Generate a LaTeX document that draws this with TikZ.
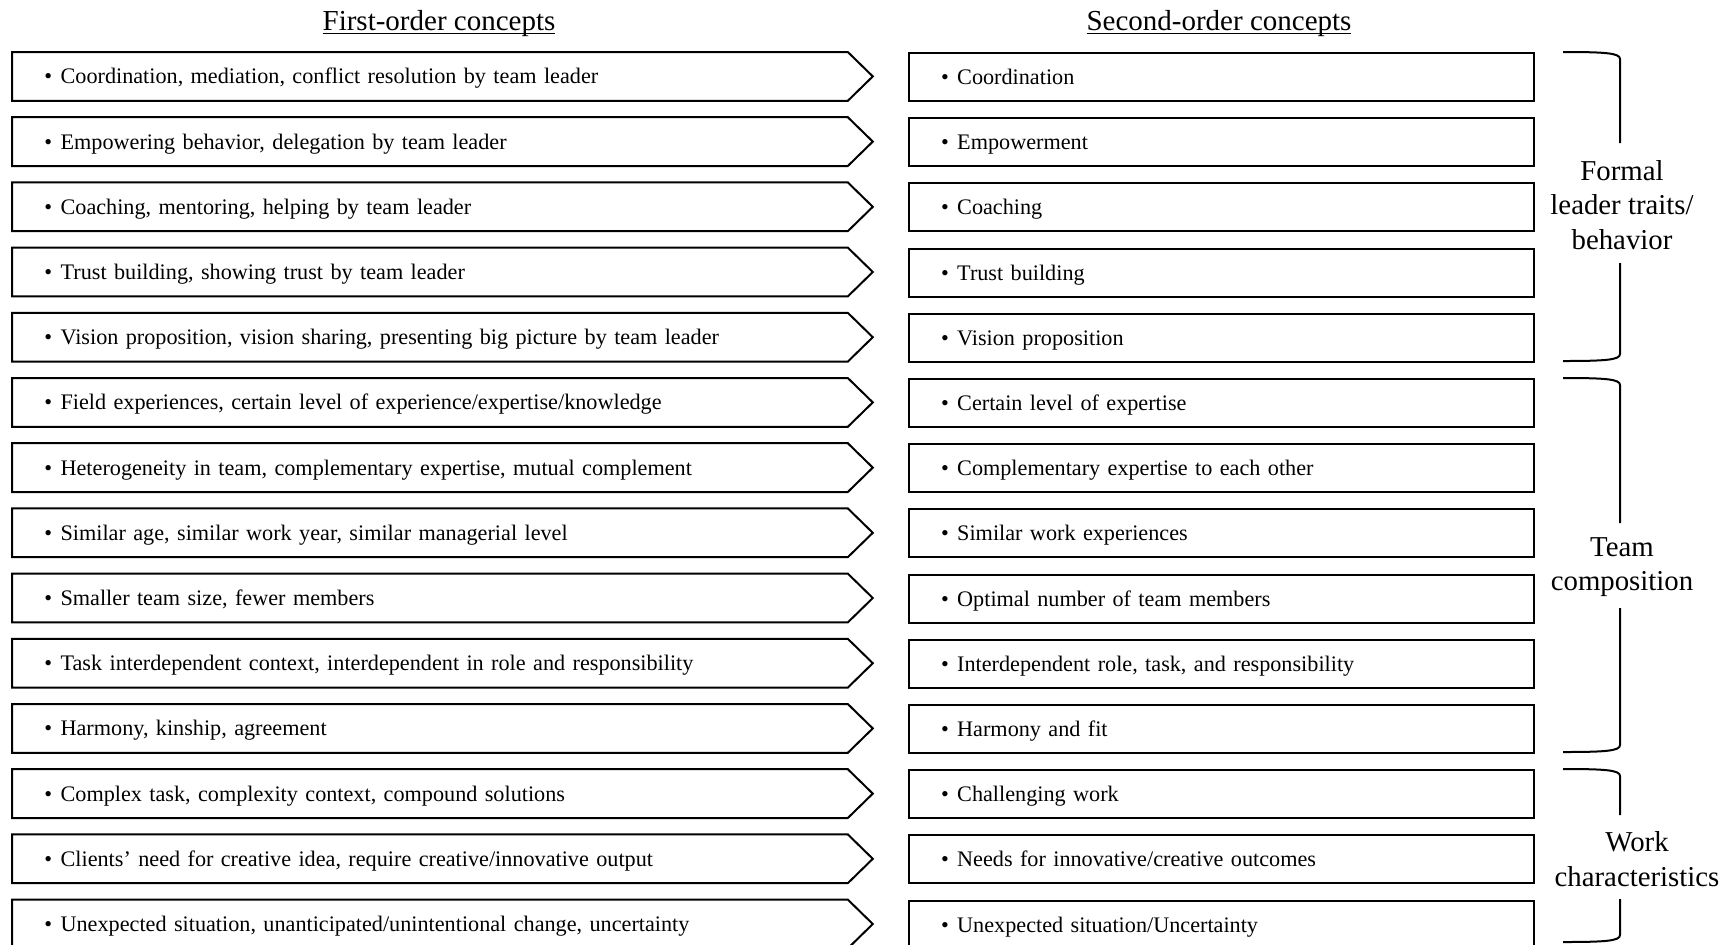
\documentclass[tikz,border=0pt]{standalone}
\usepackage{fontspec}
\setmainfont{Liberation Serif}
\newcommand{\hdrul}[1]{\setbox0\hbox{#1}\rlap{\rule[-2pt]{\wd0}{0.75pt}}\box0}
\tikzset{
  boxtext/.style={font=\fontsize{11.1}{13}\selectfont, text height=0.85em, text depth=0.1em, inner ysep=0pt, inner xsep=16pt, align=left, minimum height=24pt, anchor=north west},
  lbox/.style={boxtext, rectangle, text width=385.5pt},
  rbox/.style={boxtext, rectangle, draw, line width=1pt, text width=280.5pt},
  outl/.style={line width=1pt, line join=miter},
  hdr/.style={font=\fontsize{14.5}{17}\selectfont, anchor=base, inner sep=0pt},
  grp/.style={font=\fontsize{14.4}{17.2}\selectfont, align=center, inner sep=0pt},
  brk/.style={line width=1pt},
}
\newcommand{\myrow}[3]{%
  \pgfmathsetmacro{\yy}{52+65.2*(#1-1)}%
  \node[lbox] (L#1) at (12,\yy) {•\hspace{0.38em}#2};
  \draw[outl] (L#1.north west) -- (L#1.north east) -- ([xshift=12.5pt]L#1.east) -- (L#1.south east) -- (L#1.south west) -- cycle;
  \node[rbox] (R#1) at (908,\yy) {•\hspace{0.38em}#3};
}
\newcommand{\mybracket}[4]{% top, gap start, gap end, bottom
  \draw[brk] (1563,#1) .. controls (1605,#1) and (1620,#1+1) .. (1620,#1+7) -- (1620,#2);
  \draw[brk] (1620,#3) -- (1620,#4-7) .. controls (1620,#4-1) and (1605,#4) .. (1563,#4);
}
\begin{document}
\begin{tikzpicture}[x=0.5pt,y=-0.5pt]
\useasboundingbox (0,0) rectangle (1734,944);
\clip (0,0) rectangle (1734,944);
\node[hdr] (h1) at (439,30) {\hdrul{First-order concepts}};
\node[hdr] (h2) at (1219,30) {\hdrul{Second-order concepts}};
\myrow{1}{Coordination, mediation, conflict resolution by team leader}{Coordination}
\myrow{2}{Empowering behavior, delegation by team leader}{Empowerment}
\myrow{3}{Coaching, mentoring, helping by team leader}{Coaching}
\myrow{4}{Trust building, showing trust by team leader}{Trust building}
\myrow{5}{Vision proposition, vision sharing, presenting big picture by team leader}{Vision proposition}
\myrow{6}{Field experiences, certain level of experience/expertise/knowledge}{Certain level of expertise}
\myrow{7}{Heterogeneity in team, complementary expertise, mutual complement}{Complementary expertise to each other}
\myrow{8}{Similar age, similar work year, similar managerial level}{Similar work experiences}
\myrow{9}{Smaller team size, fewer members}{Optimal number of team members}
\myrow{10}{Task interdependent context, interdependent in role and responsibility}{Interdependent role, task, and responsibility}
\myrow{11}{Harmony, kinship, agreement}{Harmony and fit}
\myrow{12}{Complex task, complexity context, compound solutions}{Challenging work}
\myrow{13}{Clients’ need for creative idea, require creative/innovative output}{Needs for innovative/creative outcomes}
\myrow{14}{Unexpected situation, unanticipated/unintentional change, uncertainty}{Unexpected situation/Uncertainty}
\node[grp] (g1) at (1622,205) {Formal\\leader traits/\\behavior};
\node[grp] (g2) at (1622,567) {Team\\composition};
\node[grp] (g3) at (1637,859) {Work\\characteristics};
\mybracket{52}{143}{263}{361}
\mybracket{378}{523}{608}{752}
\mybracket{769}{815}{899}{942}
\end{tikzpicture}
\end{document}
